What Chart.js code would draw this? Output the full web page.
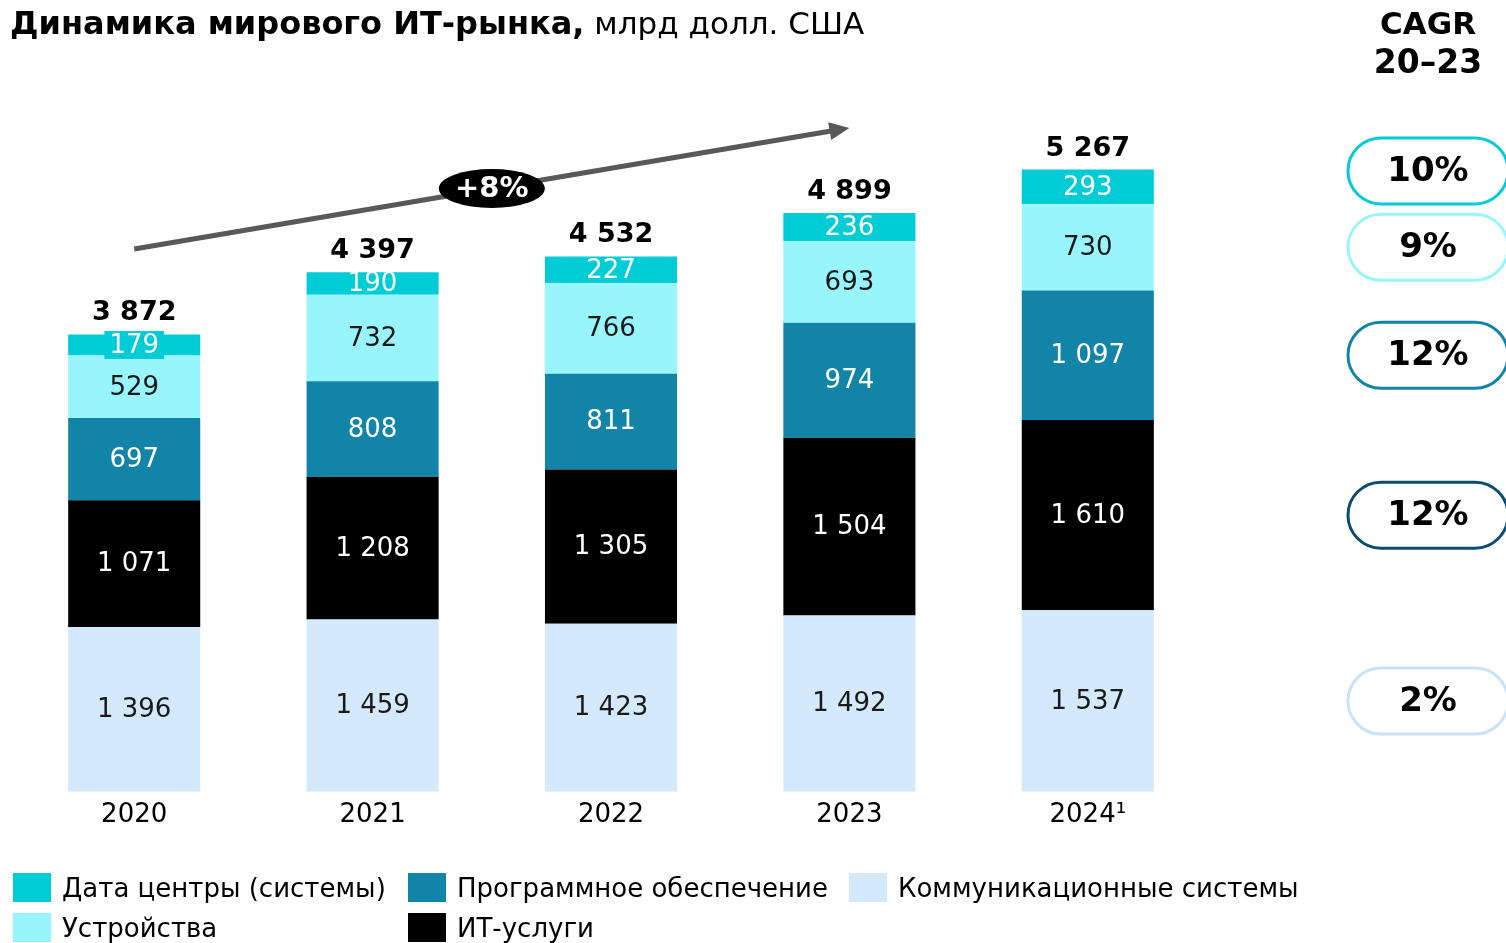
<!DOCTYPE html>
<html><head><meta charset="utf-8">
<script src="https://cdn.jsdelivr.net/npm/chart.js@4/dist/chart.umd.min.js"></script>
<style>html,body{margin:0;padding:0;background:#fff;}#wrap{width:1506px;height:943px;position:relative;}</style>
</head><body><div id="wrap"><canvas id="c" width="1506" height="943"></canvas></div>
<script>
const categories = ['2020','2021','2022','2023','2024\u00B9'];
const seriesNames = ['Коммуникационные системы','ИТ-услуги','Программное обеспечение','Устройства','Дата центры (системы)'];
const communications = [1396,1459,1423,1492,1537];
const itServices = [1071,1208,1305,1504,1610];
const software = [697,808,811,974,1097];
const devices = [529,732,766,693,730];
const dataCenters = [179,190,227,236,293];
const totals = [3872,4397,4532,4899,5267];
const cagrLabels = ['2%','12%','12%','9%','10%'];
const trendLabel = '+8%';
const titleBold = 'Динамика мирового ИТ-рынка,';
const titleNormal = ' млрд долл. США';

const colors = ['#d4eafc','#000000','#1284a8','#99f5fc','#00ccd6'];
const labelColors = ['#1a1a1a','#ffffff','#ffffff','#1a1a1a','#ffffff'];
const pillColors = ['#c9e2f9','#0b4a72','#1284a8','#99f5fc','#00ccd6'];
const FONT = '"DejaVu Sans", Verdana, sans-serif';

const fmt = v => { const s = String(v); return s.length > 3 ? s.slice(0, s.length-3) + ' ' + s.slice(-3) : s; };

const seriesData = [communications, itServices, software, devices, dataCenters];

const overlay = {
  id: 'overlay',
  afterDatasetsDraw(chart) {
    const ctx = chart.ctx;
    const y = chart.scales.y;
    const x = chart.scales.x;
    ctx.save();
    // segment labels
    chart.data.datasets.forEach((ds, di) => {
      const meta = chart.getDatasetMeta(di);
      meta.data.forEach((bar, i) => {
        const top = Math.min(bar.y, bar.base), bot = Math.max(bar.y, bar.base);
        const cy = (top + bot) / 2;
        const txt = fmt(ds.data[i]);
        ctx.font = '26px ' + FONT;
        ctx.textAlign = 'center';
        ctx.textBaseline = 'middle';
        if (bot - top < 22) {
          const w = ctx.measureText(txt).width + 10;
          ctx.fillStyle = ds.backgroundColor;
          ctx.fillRect(bar.x - w/2, cy - 14, w, 28);
        }
        ctx.fillStyle = labelColors[di];
        ctx.fillText(txt, bar.x, cy + 1);
      });
    });
    // totals
    const lastMeta = chart.getDatasetMeta(chart.data.datasets.length - 1);
    ctx.font = 'bold 27px ' + FONT;
    ctx.fillStyle = '#000';
    ctx.textAlign = 'center';
    ctx.textBaseline = 'middle';
    lastMeta.data.forEach((bar, i) => {
      ctx.fillText(fmt(totals[i]), bar.x, y.getPixelForValue(totals[i]) - 21);
    });
    // trend arrow
    const x0 = x.getPixelForValue(0), y0 = y.getPixelForValue(4595);
    const x1 = x.getPixelForValue(3), y1 = y.getPixelForValue(5620);
    const ang = Math.atan2(y1 - y0, x1 - x0);
    ctx.strokeStyle = '#595959';
    ctx.fillStyle = '#595959';
    ctx.lineWidth = 5;
    ctx.beginPath();
    ctx.moveTo(x0, y0);
    ctx.lineTo(x1 - 14*Math.cos(ang), y1 - 14*Math.sin(ang));
    ctx.stroke();
    ctx.beginPath();
    ctx.moveTo(x1, y1);
    ctx.lineTo(x1 - 20*Math.cos(ang) + 9*Math.sin(ang), y1 - 20*Math.sin(ang) - 9*Math.cos(ang));
    ctx.lineTo(x1 - 20*Math.cos(ang) - 9*Math.sin(ang), y1 - 20*Math.sin(ang) + 9*Math.cos(ang));
    ctx.closePath();
    ctx.fill();
    const mx = (x0 + x1) / 2, my = (y0 + y1) / 2;
    ctx.fillStyle = '#000';
    ctx.beginPath();
    ctx.ellipse(mx, my, 53, 19.5, 0, 0, Math.PI*2);
    ctx.fill();
    ctx.fillStyle = '#fff';
    ctx.font = 'bold 29px ' + FONT;
    ctx.fillText(trendLabel, mx, my + 1);
    // CAGR pills aligned with 2024 segments
    const pcx = 1428, pw = 160, ph = 66, r = 33;
    chart.data.datasets.forEach((ds, di) => {
      const bar = chart.getDatasetMeta(di).data[4];
      let cy = (bar.y + bar.base) / 2;
      if (di === 4) cy -= 16;
      const lx = pcx - pw/2;
      ctx.beginPath();
      ctx.moveTo(lx + r, cy - ph/2);
      ctx.lineTo(lx + pw - r, cy - ph/2);
      ctx.arc(lx + pw - r, cy, r, -Math.PI/2, Math.PI/2);
      ctx.lineTo(lx + r, cy + ph/2);
      ctx.arc(lx + r, cy, r, Math.PI/2, Math.PI*1.5);
      ctx.closePath();
      ctx.lineWidth = 3;
      ctx.strokeStyle = pillColors[di];
      ctx.fillStyle = '#fff';
      ctx.fill();
      ctx.stroke();
      ctx.fillStyle = '#000';
      ctx.font = 'bold 34px ' + FONT;
      ctx.textAlign = 'center';
      ctx.fillText(cagrLabels[di], pcx, cy + 1);
    });
    ctx.restore();
  },
  afterDraw(chart) {
    const ctx = chart.ctx;
    ctx.save();
    // title
    ctx.textBaseline = 'middle';
    ctx.textAlign = 'left';
    ctx.fillStyle = '#000';
    ctx.font = 'bold 32px ' + FONT;
    ctx.fillText(titleBold, 10, 26);
    const w = ctx.measureText(titleBold).width;
    ctx.font = '31px ' + FONT;
    ctx.fillText(titleNormal, 10 + w, 26);
    // CAGR header
    ctx.textAlign = 'center';
    ctx.font = 'bold 31px ' + FONT;
    ctx.fillText('CAGR', 1428, 26);
    ctx.font = 'bold 33px ' + FONT;
    ctx.fillText('20\u201323', 1428, 64);
    // legend (column-major, 2 rows)
    const order = [4, 3, 2, 1, 0];
    const colX = [13, 408, 849];
    const rowY = [888, 928];
    ctx.textAlign = 'left';
    ctx.font = '26px ' + FONT;
    order.forEach((di, k) => {
      const col = Math.floor(k / 2), row = k % 2;
      const ds = chart.data.datasets[di];
      ctx.fillStyle = ds.backgroundColor;
      ctx.fillRect(colX[col], rowY[row] - 15, 38, 29);
      ctx.fillStyle = '#000';
      ctx.fillText(ds.label, colX[col] + 49, rowY[row] + 2);
    });
    ctx.restore();
  }
};

new Chart(document.getElementById('c'), {
  type: 'bar',
  data: {
    labels: categories,
    datasets: seriesData.map((d, i) => ({
      label: seriesNames[i],
      data: d,
      backgroundColor: colors[i],
      borderWidth: 0,
      categoryPercentage: 1,
      barPercentage: 0.554
    }))
  },
  options: {
    responsive: false,
    animation: false,
    layout: { padding: { left: 15, right: 299, top: 83, bottom: 104 } },
    plugins: { legend: { display: false }, tooltip: { enabled: false } },
    scales: {
      x: {
        stacked: true,
        grid: { display: false, drawTicks: false },
        border: { display: false },
        ticks: { color: '#000', font: { size: 26, family: FONT }, padding: 8 }
      },
      y: {
        stacked: true,
        display: false,
        min: 0,
        max: 6000
      }
    }
  },
  plugins: [overlay]
});
</script></body></html>
